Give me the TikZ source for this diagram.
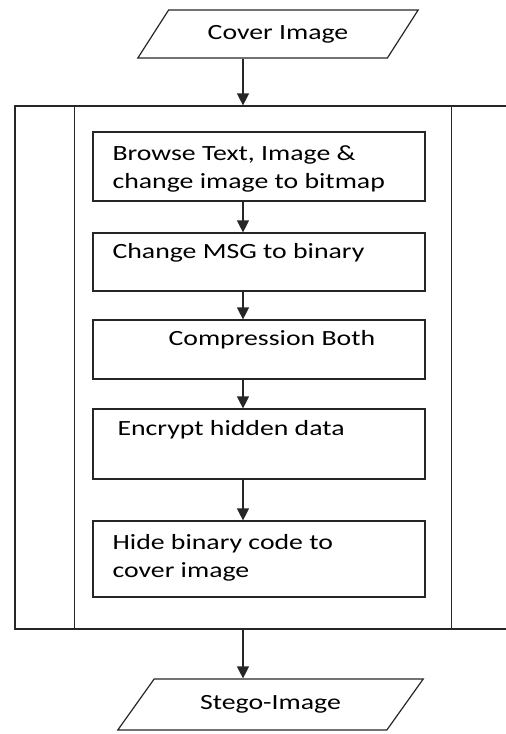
\documentclass[tikz,border=0pt]{standalone}
\usepackage{fontspec}
\setmainfont{Carlito}[FakeStretch=1.28]
\usetikzlibrary{arrows.meta,calc,positioning,shapes.geometric}
\tikzset{%
	proc/.style   = {draw, rectangle, inner sep=0pt}, % predefined process
	block/.style  = {draw, rectangle, inner sep=0pt, minimum width=332pt},
	io/.style     = {draw, trapezium, trapezium stretches=true, inner sep=0pt}, % input / output
	txt/.style    = {inner sep=0pt, align=left, anchor=base west},
}

\begin{document}
\begin{tikzpicture}[x=1pt, y=-1pt, line width=1.2pt, draw=black!85, >={Triangle[width=12pt,length=12pt]}, font=\fontsize{21.7}{28}\selectfont]
		\useasboundingbox (0,0) rectangle (506,734);
		\coordinate (spine) at (243,0);
		\node[io, trapezium left angle=42, trapezium right angle=138, minimum width=281pt, minimum height=48pt] (cover) at (278,34) {Cover Image};
		\node[proc, minimum width=497pt, minimum height=523pt] (proc) at (263.5,367.5) {};
		\draw ($(proc.north west)+(60,0)$) -- ($(proc.south west)+(60,0)$);
		\draw ($(proc.north west)+(437,0)$) -- ($(proc.south west)+(437,0)$);
		\node[block, minimum height=69pt] (b1) at (259,166.5) {};
		\node[block, minimum height=58pt] (b2) at (259,262) {};
		\node[block, minimum height=59pt] (b3) at (259,349.5) {};
		\node[block, minimum height=70pt] (b4) at (259,444) {};
		\node[block, minimum height=76pt] (b5) at (259,559) {};
		% base of a two-line node is its last line
		\node[txt] (t1) at (112,188) {Browse Text, Image \&\\change image to bitmap};
		\node[txt] (t2) at (112,258) {Change MSG to binary};
		\node[txt] (t3) at (168,345) {Compression Both};
		\node[txt] (t4) at (117,435) {Encrypt hidden data};
		\node[txt] (t5) at (112,577) {Hide binary code to\\cover image};
		\node[io, trapezium left angle=39, trapezium right angle=141, minimum width=306pt, minimum height=51pt] (stego) at (270.5,704.5) {Stego-Image};
		\draw[->] (cover.south -| spine) -- (proc.north -| spine);
		\draw[->] (b1.south -| spine) -- (b2.north -| spine);
		\draw[->] (b2.south -| spine) -- (b3.north -| spine);
		\draw[->] (b3.south -| spine) -- (b4.north -| spine);
		\draw[->] (b4.south -| spine) -- (b5.north -| spine);
		\draw[->] (proc.south -| spine) -- (stego.north -| spine);
		
		\end{tikzpicture}
\end{document}
